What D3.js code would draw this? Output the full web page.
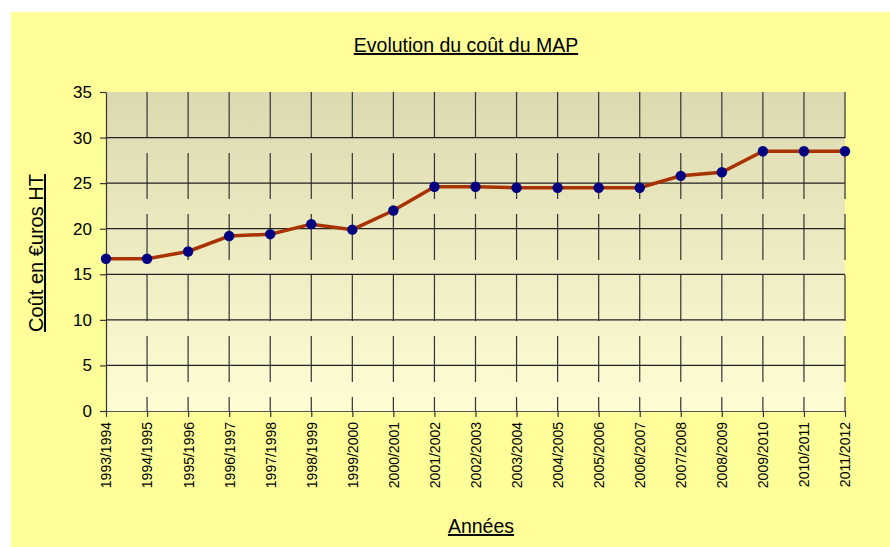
<!DOCTYPE html>
<html>
<head>
<meta charset="utf-8">
<script src="https://cdn.jsdelivr.net/npm/d3@7"></script>
<style>
  body { margin: 0; background: #ffffff; }
  text { font-family: "Liberation Sans", Arial, sans-serif; fill: #000; }
</style>
</head>
<body>
<svg width="890" height="547"></svg>
<script>
var years = ["1993/1994", "1994/1995", "1995/1996", "1996/1997", "1997/1998", "1998/1999",
	"1999/2000", "2000/2001", "2001/2002", "2002/2003", "2003/2004", "2004/2005",
	"2005/2006", "2006/2007", "2007/2008", "2008/2009", "2009/2010", "2010/2011", "2011/2012"];
var cost = [16.7, 16.7, 17.5, 19.2, 19.4, 20.5, 19.9, 22.0, 24.6, 24.6, 24.5, 24.5,
	24.5, 24.5, 25.8, 26.2, 28.5, 28.5, 28.5];
var yTicks = [0, 5, 10, 15, 20, 25, 30, 35];

var plotLeft = 106, plotRight = 845, plotTop = 92, plotBottom = 411;
var svg = d3.select("svg");

// chart background
svg.append("rect")
	.attr("x", 11).attr("y", 12)
	.attr("width", 879).attr("height", 535)
	.attr("fill", "#ffff99");

// plot area gradient
var grad = svg.append("defs").append("linearGradient")
	.attr("id", "plotGrad")
	.attr("x1", 0).attr("y1", 0).attr("x2", 0).attr("y2", 1);
grad.append("stop").attr("offset", "0%").attr("stop-color", "#dcd9b0");
grad.append("stop").attr("offset", "100%").attr("stop-color", "#fffdd4");

svg.append("rect")
	.attr("x", plotLeft).attr("y", plotTop)
	.attr("width", plotRight - plotLeft).attr("height", plotBottom - plotTop)
	.attr("fill", "url(#plotGrad)");

var x = d3.scalePoint().domain(years).range([plotLeft, plotRight]);
var y = d3.scaleLinear().domain([0, 35]).range([plotBottom, plotTop]);

// vertical dashed gridlines
svg.append("g").selectAll("line")
	.data(years.slice(1))
	.enter().append("line")
	.attr("x1", function(d) { return x(d); })
	.attr("x2", function(d) { return x(d); })
	.attr("y1", plotTop).attr("y2", plotBottom)
	.attr("stroke", "#333")
	.attr("stroke-width", 1.2)
	.attr("stroke-dasharray", "46,15");

// horizontal gridlines
svg.append("g").selectAll("line")
	.data(yTicks.slice(1, -1))
	.enter().append("line")
	.attr("x1", plotLeft).attr("x2", plotRight)
	.attr("y1", function(d) { return y(d); })
	.attr("y2", function(d) { return y(d); })
	.attr("stroke", "#222")
	.attr("stroke-width", 1.2);

// y axis
var yAxis = svg.append("g")
	.attr("transform", "translate(" + plotLeft + ",0)")
	.call(d3.axisLeft(y).tickValues(yTicks).tickSize(6).tickSizeOuter(0).tickPadding(8));
yAxis.selectAll("text").style("font-size", "17px").attr("font-family", null);
yAxis.selectAll("line, path").attr("stroke", "#333").attr("stroke-width", 1.2);

// x axis
var xAxis = svg.append("g")
	.attr("transform", "translate(0," + plotBottom + ")")
	.call(d3.axisBottom(x).tickSize(6).tickSizeOuter(0));
xAxis.select(".domain").attr("stroke", "#555").attr("stroke-width", 1.2);
xAxis.selectAll("line").attr("stroke", "#333").attr("stroke-width", 1.2);
xAxis.selectAll("text")
	.style("font-size", "14px")
	.attr("transform", "rotate(-90)")
	.attr("text-anchor", "end")
	.attr("x", -11).attr("y", 0).attr("dy", "0.35em");

// line
svg.append("path")
	.datum(cost)
	.attr("fill", "none")
	.attr("stroke", "#a83200")
	.attr("stroke-width", 3.5)
	.attr("d", d3.line()
		.x(function(d, i) { return x(years[i]); })
		.y(function(d) { return y(d); }));

// markers
svg.append("g").selectAll("circle")
	.data(cost)
	.enter().append("circle")
	.attr("cx", function(d, i) { return x(years[i]); })
	.attr("cy", function(d) { return y(d); })
	.attr("r", 5.2)
	.attr("fill", "#000080");

// titles (underlined)
svg.append("text")
	.attr("x", 466).attr("y", 52)
	.attr("text-anchor", "middle")
	.attr("text-decoration", "underline")
	.style("font-size", "19.5px")
	.text("Evolution du coût du MAP");

svg.append("text")
	.attr("transform", "translate(43,253) rotate(-90)")
	.attr("text-anchor", "middle")
	.attr("text-decoration", "underline")
	.style("font-size", "20px")
	.text("Coût en €uros HT");

svg.append("text")
	.attr("x", 481).attr("y", 533)
	.attr("text-anchor", "middle")
	.attr("text-decoration", "underline")
	.style("font-size", "19.5px")
	.text("Années");
</script>
</body>
</html>
